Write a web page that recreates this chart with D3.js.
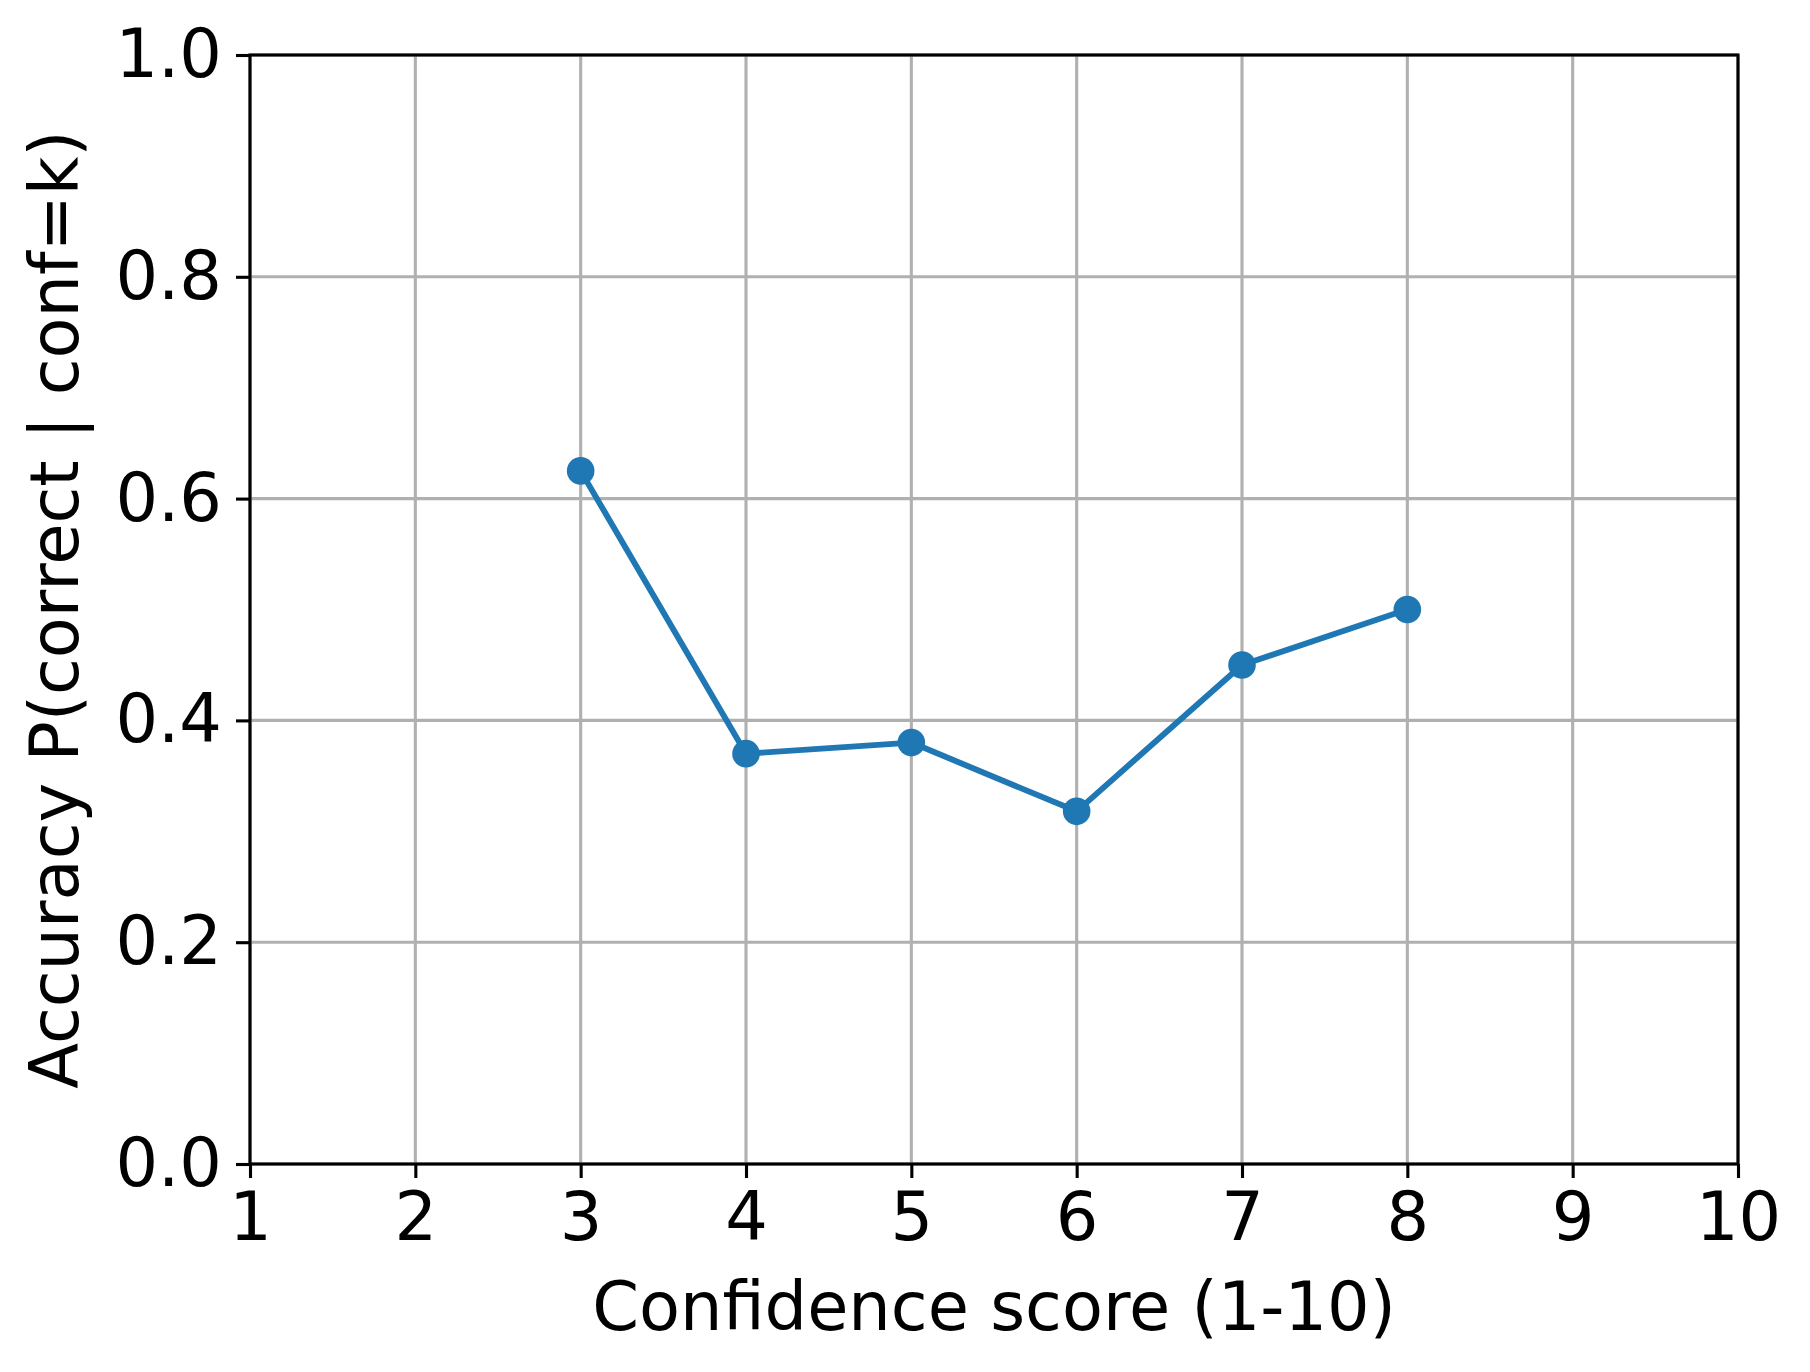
<!DOCTYPE html>
<html lang="en">
<head>
<meta charset="UTF-8" />
<script src="https://d3js.org/d3.v7.min.js"></script>
<style>
  body { margin: 0; background: #fff; }
  text { font-family: "DejaVu Sans", sans-serif; fill: #000; }
</style>
</head>
<body>
<script>
const width = 1810;
const height = 1372;

// data
const confScores = [3, 4, 5, 6, 7, 8];
const accuracy = [0.625, 0.370, 0.380, 0.318, 0.450, 0.500];
const xTicks = [1, 2, 3, 4, 5, 6, 7, 8, 9, 10];
const yTicks = [0.0, 0.2, 0.4, 0.6, 0.8, 1.0];
const xLabel = "Confidence score (1-10)";
const yLabel = "Accuracy P(correct | conf=k)";

const plot = { left: 250, right: 1738, top: 55, bottom: 1164 };
const fontPx = 67;
const blue = "#1f77b4";

const svg = d3.select("body").append("svg")
  .attr("width", width)
  .attr("height", height);

const x = d3.scaleLinear().domain([1, 10]).range([plot.left, plot.right]);
const y = d3.scaleLinear().domain([0, 1]).range([plot.bottom, plot.top]);

// grid
svg.append("g")
  .selectAll("line.vg")
  .data(xTicks)
  .join("line")
  .attr("x1", d => x(d)).attr("x2", d => x(d))
  .attr("y1", plot.top).attr("y2", plot.bottom)
  .attr("stroke", "#b0b0b0").attr("stroke-width", 3.1);

svg.append("g")
  .selectAll("line.hg")
  .data(yTicks)
  .join("line")
  .attr("y1", d => y(d)).attr("y2", d => y(d))
  .attr("x1", plot.left).attr("x2", plot.right)
  .attr("stroke", "#b0b0b0").attr("stroke-width", 3.1);

// line + markers
const line = d3.line()
  .x((d, i) => x(confScores[i]))
  .y(d => y(d));

svg.append("path")
  .datum(accuracy)
  .attr("d", line)
  .attr("fill", "none")
  .attr("stroke", blue)
  .attr("stroke-width", 5.9)
  .attr("stroke-linejoin", "round")
  .attr("stroke-linecap", "square");

svg.append("g")
  .selectAll("circle")
  .data(accuracy)
  .join("circle")
  .attr("cx", (d, i) => x(confScores[i]))
  .attr("cy", d => y(d))
  .attr("r", 13.8)
  .attr("fill", blue);

// spines
svg.append("rect")
  .attr("x", plot.left).attr("y", plot.top)
  .attr("width", plot.right - plot.left)
  .attr("height", plot.bottom - plot.top)
  .attr("fill", "none")
  .attr("stroke", "#000")
  .attr("stroke-width", 3.1);

// axes
const xAxis = d3.axisBottom(x)
  .tickValues(xTicks)
  .tickFormat(d3.format("d"))
  .tickSize(14)
  .tickPadding(14);

const yAxis = d3.axisLeft(y)
  .tickValues(yTicks)
  .tickFormat(d3.format(".1f"))
  .tickSize(14)
  .tickPadding(14);

const gx = svg.append("g")
  .attr("transform", `translate(0,${plot.bottom})`)
  .call(xAxis);
const gy = svg.append("g")
  .attr("transform", `translate(${plot.left},0)`)
  .call(yAxis);

[gx, gy].forEach(g => {
  g.select(".domain").remove();
  g.selectAll(".tick line").attr("stroke", "#000").attr("stroke-width", 3.1);
  g.selectAll(".tick text")
    .style("font-family", "DejaVu Sans, sans-serif")
    .style("font-size", fontPx + "px")
    .attr("fill", "#000");
});

// axis labels
svg.append("text")
  .attr("x", (plot.left + plot.right) / 2)
  .attr("y", 1330)
  .attr("text-anchor", "middle")
  .style("font-size", fontPx + "px")
  .text(xLabel);

svg.append("text")
  .attr("transform", `translate(78,${(plot.top + plot.bottom) / 2}) rotate(-90)`)
  .attr("text-anchor", "middle")
  .style("font-size", fontPx + "px")
  .text(yLabel);
</script>
</body>
</html>
